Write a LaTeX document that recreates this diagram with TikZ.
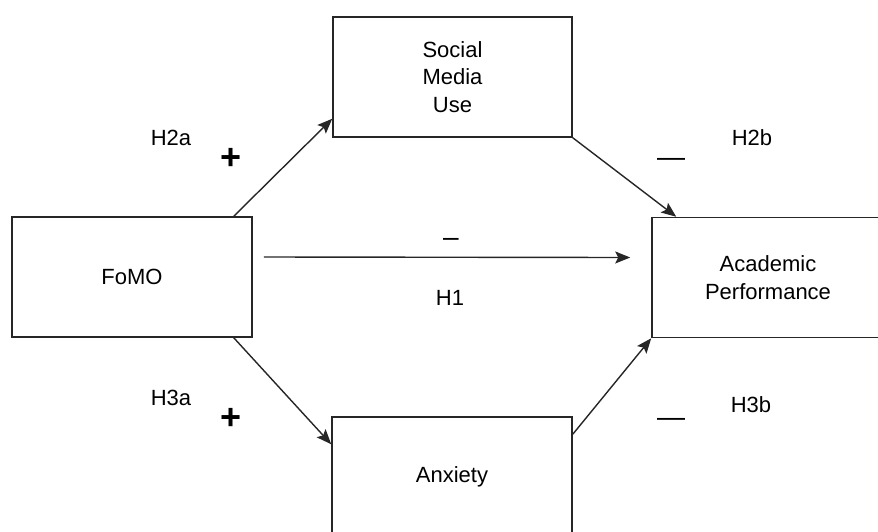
\documentclass[tikz,border=0pt]{standalone}
\usepackage{fontspec}
\setmainfont{Liberation Sans}
\usetikzlibrary{arrows.meta}
\begin{document}
\begin{tikzpicture}[x=1pt,y=-1pt,
  box/.style={draw=black!85,line width=1.5pt,minimum width=240pt,minimum height=120pt,inner sep=0pt,
    font=\fontsize{22}{27.5}\selectfont,align=center},
  lbl/.style={inner sep=0pt,font=\fontsize{22}{27.5}\selectfont},
  sign/.style={inner sep=0pt,font=\fontsize{36}{36}\selectfont\bfseries},
  dashsign/.style={inner sep=0pt,font=\fontsize{28}{28}\selectfont},
  arr/.style={draw=black!85,line width=1.4pt,-{Stealth[length=15pt,width=12pt,inset=3pt]}}]
\useasboundingbox (0,0) rectangle (878,531);
\clip (0,0) rectangle (878,531);
\node[box] (fomo) at (132,277) {FoMO};
\node[box,minimum width=239pt] (smu) at (452.5,77) {Social\\Media\\Use};
\node[box,minimum width=232pt] (acad) at (768,277.5) {Academic\\Performance};
\node[box] (anx) at (452,477) {Anxiety};
\draw[arr] ([xshift=-19pt]fomo.north east) -- ([yshift=19pt]smu.south west);
\draw[arr] (smu.south east) -- ([xshift=25pt]acad.north west);
\draw[arr] ([xshift=11pt,yshift=20pt]fomo.east) -- ([xshift=-21pt,yshift=20pt]acad.west);
\draw[arr] ([xshift=-19pt]fomo.south east) -- ([yshift=-28pt]anx.north west);
\draw[arr] ([yshift=-18pt]anx.north east) -- (acad.south west);
\node[lbl] (h2a) at (171,138) {H2a};
\node[sign] (p1) at (231,159) {+};
\node[lbl] (h2b) at (752,138) {H2b};
\node[dashsign] (m1) at (671,162) {—};
\node[dashsign] (m0) at (451,242) {–};
\node[lbl] (h1) at (450,298) {H1};
\node[lbl] (h3a) at (171,398) {H3a};
\node[sign] (p2) at (231,419) {+};
\node[lbl] (h3b) at (751,405) {H3b};
\node[dashsign] (m2) at (671,422) {—};
\end{tikzpicture}
\end{document}
